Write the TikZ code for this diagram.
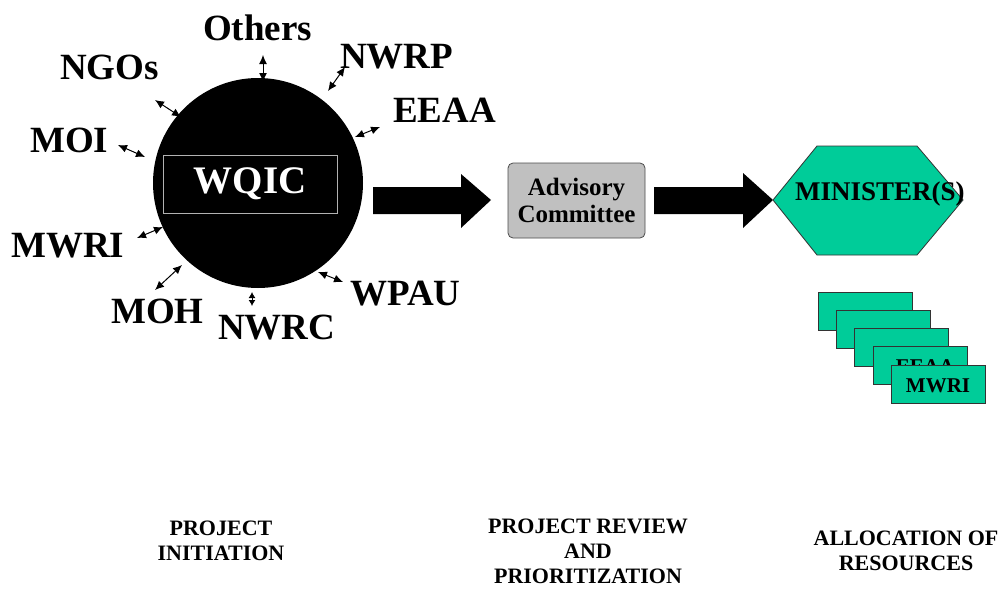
\documentclass[tikz,border=0pt]{standalone}
\usepackage{fontspec}
\setmainfont{Liberation Serif}
\usetikzlibrary{arrows.meta}
\definecolor{teal1}{HTML}{00CC99}
\definecolor{advgray}{HTML}{C0C0C0}
\tikzset{
  lbl/.style={anchor=base west, inner sep=0pt, font=\fontsize{37}{40}\selectfont\bfseries},
  link/.style={{Latex[length=9pt,width=8pt]}-{Latex[length=9pt,width=8pt]}, line width=1pt},
  smalllink/.style={{Latex[length=6pt,width=7pt]}-{Latex[length=6pt,width=7pt]}, line width=1pt},
  blockarrow/.style={fill=black, draw=none},
  phase/.style={align=center, inner sep=0pt, font=\fontsize{22}{25}\selectfont\bfseries},
  stackbox/.style={draw=black!80, fill=teal1, line width=0.8pt, minimum width=94pt, minimum height=38pt, inner sep=0pt, anchor=north west},
}
\begin{document}
\begin{tikzpicture}[x=1pt,y=-1pt]
\useasboundingbox (0,0) rectangle (1001,589);
% WQIC circle
\fill[black] (258,183) circle (105);
\node[draw=gray!60, line width=0.8pt, minimum width=174pt, minimum height=58pt, inner sep=0pt, text=white,
  font=\fontsize{39}{40}\selectfont\bfseries] (wqic) at (250,184) {WQIC};
% labels
\node[lbl] (others) at (203,40) {Others};
\node[lbl] (ngos) at (60,79) {NGOs};
\node[lbl] (nwrp) at (340,68) {NWRP};
\node[lbl] (eeaa) at (393,122) {EEAA};
\node[lbl] (moi) at (30,152) {MOI};
\node[lbl] (mwri) at (11,257) {MWRI};
\node[lbl] (moh) at (111,323) {MOH};
\node[lbl] (nwrc) at (218,339) {NWRC};
\node[lbl] (wpau) at (350,305) {WPAU};
% small link end points
\coordinate (o1) at (263,55);  \coordinate (o2) at (263,82);
\coordinate (p1) at (345,67);  \coordinate (p2) at (328,91);
\coordinate (g1) at (155,100); \coordinate (g2) at (181,117);
\coordinate (e1) at (380,127); \coordinate (e2) at (355,137);
\coordinate (i1) at (118,145); \coordinate (i2) at (145,157);
\coordinate (w1) at (137,238); \coordinate (w2) at (163,227);
\coordinate (h1) at (155,290); \coordinate (h2) at (182,265);
\coordinate (c1) at (252,292); \coordinate (c2) at (252,306);
\coordinate (u1) at (318,272); \coordinate (u2) at (343,282);
\draw[link] (o1) -- (o2);
\draw[link] (p1) -- (p2);
\draw[link] (g1) -- (g2);
\draw[link] (e1) -- (e2);
\draw[link] (i1) -- (i2);
\draw[link] (w1) -- (w2);
\draw[link] (h1) -- (h2);
\draw[smalllink] (c1) -- (c2);
\draw[link] (u1) -- (u2);
% advisory committee
\node[draw=black!70, fill=advgray, rounded corners=5pt, line width=0.8pt, minimum width=137pt, minimum height=75pt,
  inner sep=0pt, align=center, font=\fontsize{25}{27}\selectfont\bfseries] (adv) at (576.5,200.5) {Advisory\\Committee};
% big arrows
\fill[blockarrow] (373,187) -- (461,187) -- (461,174) -- (491,200) -- (461,228) -- (461,214) -- (373,214) -- cycle;
\fill[blockarrow] (654,187) -- (743,187) -- (743,173) -- (773,200) -- (743,228) -- (743,214) -- (654,214) -- cycle;
% minister hexagon
\coordinate (hx1) at (773,200);
\coordinate (hx2) at (817,146);
\coordinate (hx3) at (917,146);
\coordinate (hx4) at (963,200);
\coordinate (hx5) at (917,255);
\coordinate (hx6) at (817,255);
\draw[fill=teal1, draw=black!80, line width=0.8pt] (hx1) -- (hx2) -- (hx3) -- (hx4) -- (hx5) -- (hx6) -- cycle;
\node[anchor=base west, inner sep=0pt, font=\fontsize{27}{28}\selectfont\bfseries] (min) at (795,200) {MINISTER(S)};
% stacked boxes
\node[stackbox] (s1) at (818,292) {};
\node[stackbox] (s2) at (836,310) {};
\node[stackbox] (s3) at (854,328) {};
\node[stackbox] (s4) at (873,346) {};
\node[anchor=base, inner sep=0pt, font=\fontsize{21}{23}\selectfont\bfseries] (s4t) at (925,373) {EEAA};
\node[stackbox] (s5) at (891,365) {};
\node[anchor=base, inner sep=0pt, font=\fontsize{21}{23}\selectfont\bfseries] (s5t) at (938,392) {MWRI};
% phases
\node[phase, anchor=north] (ph1) at (221,521) {PROJECT\\INITIATION};
\node[phase, anchor=north] (ph2) at (588,519) {PROJECT REVIEW\\AND\\PRIORITIZATION};
\node[phase, anchor=north] (ph3) at (906,531) {ALLOCATION OF\\RESOURCES};
\end{tikzpicture}
\end{document}
